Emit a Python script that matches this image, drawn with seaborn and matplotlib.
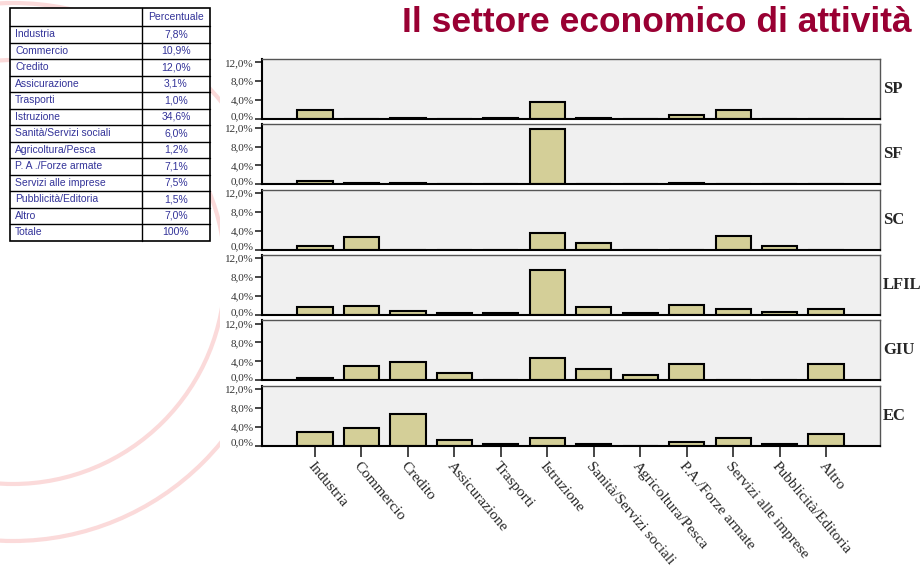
import matplotlib
matplotlib.use("Agg")
import pandas as pd
import matplotlib.pyplot as plt
import matplotlib.patches as mpatches
import seaborn as sns

# Settori economici (asse x) e tabella riassuntiva
categories = ["Industria", "Commercio", "Credito", "Assicurazione", "Trasporti",
              "Istruzione", "Sanità/Servizi sociali", "Agricoltura/Pesca",
              "P.A./Forze armate", "Servizi alle imprese", "Pubblicità/Editoria", "Altro"]
table_rows = ["Industria", "Commercio", "Credito", "Assicurazione", "Trasporti",
              "Istruzione", "Sanità/Servizi sociali", "Agricoltura/Pesca",
              "P. A ./Forze armate", "Servizi alle imprese", "Pubblicità/Editoria",
              "Altro", "Totale"]
table_pct = ["7,8%", "10,9%", "12,0%", "3,1%", "1,0%", "34,6%", "6,0%", "1,2%",
             "7,1%", "7,5%", "1,5%", "7,0%", "100%"]

# Percentuali per corso di laurea
groups = ["SP", "SF", "SC", "LFIL", "GIU", "EC"]
sp = [1.9, 0, 0.3, 0, 0.3, 3.6, 0.3, 0, 0.8, 1.9, 0, 0]
sf = [0.6, 0.2, 0.3, 0, 0, 11.6, 0.15, 0, 0.2, 0, 0, 0]
sc = [0.7, 2.6, 0, 0, 0, 3.5, 1.4, 0, 0, 2.9, 0.7, 0]
lfil = [1.6, 1.85, 0.8, 0.5, 0.3, 9.6, 1.6, 0.3, 2.05, 1.35, 0.6, 1.35]
giu = [0.5, 2.9, 3.8, 1.45, 0, 4.7, 2.35, 1.0, 3.35, 0, 0, 3.35]
ec = [2.8, 3.6, 6.7, 1.2, 0.35, 1.55, 0.35, 0, 0.8, 1.5, 0.3, 2.35]
group_values = [sp, sf, sc, lfil, giu, ec]

yticks = [0, 4, 8, 12]
ytick_labels = ["0,0%", "4,0%", "8,0%", "12,0%"]

sns.set_style("white")
plt.rcParams["font.family"] = ["Liberation Sans", "DejaVu Sans"]

W, H = 924, 573
fig = plt.figure(figsize=(W / 100, H / 100), dpi=100)

# ---- sfondo: filigrana + tabella ----
bg = fig.add_axes([0, 0, 1, 1])
bg.set_xlim(0, W)
bg.set_ylim(H, 0)
bg.axis("off")
clip = mpatches.Rectangle((0, 0), 220, H, transform=bg.transData)
for r in (269, 212):
    c = mpatches.Circle((13, 272), r, fill=False, lw=3, ec="#fbdada")
    bg.add_patch(c)
    c.set_clip_path(clip)

tx0, tx1, tx2 = 10, 142, 210
ty0, ty1, rh = 8, 26, 16.5
ty_end = ty1 + rh * len(table_rows)
bg.add_patch(mpatches.Rectangle((tx0, ty0), tx2 - tx0, ty_end - ty0,
                                fill=True, fc="white", ec="black", lw=1.2))
bg.plot([tx1, tx1], [ty0, ty_end], color="black", lw=1)
bg.text((tx1 + tx2) / 2, (ty0 + ty1) / 2, "Percentuale", ha="center", va="center",
        fontsize=7.5, color="#333399")
for i, (name, pct) in enumerate(zip(table_rows, table_pct)):
    ytop = ty1 + i * rh
    bg.plot([tx0, tx2], [ytop, ytop], color="black", lw=1)
    bg.text(tx0 + 5, ytop + rh / 2, name, ha="left", va="center", fontsize=7.5, color="#333399")
    bg.text((tx1 + tx2) / 2, ytop + rh / 2, pct, ha="center", va="center",
            fontsize=7.5, color="#333399")

fig.text(912 / W, 1 - 32 / H, "Il settore economico di attività", ha="right", va="baseline",
         fontsize=25.5, fontweight="bold", color="#990033", family="Liberation Sans")

# ---- pannelli ----
left, right = 262, 880
top0, pitch, ph = 59, 65.3, 60
for i, (g, vals) in enumerate(zip(groups, group_values)):
    top = top0 + i * pitch
    ax = fig.add_axes([left / W, 1 - (top + ph) / H, (right - left) / W, ph / H])
    ax.set_facecolor("#f0f0f0")
    df = pd.DataFrame({"settore": categories, "perc": vals})
    sns.barplot(data=df, x="settore", y="perc", ax=ax, color="#d4cf98", saturation=1,
                edgecolor="black", linewidth=1.5, width=0.76)
    ax.set_xlim(-1.14, 12.16)
    ax.set_ylim(0, 12.7)
    ax.set_xlabel("")
    ax.set_ylabel("")
    ax.set_yticks(yticks)
    ylabs = ax.set_yticklabels(ytick_labels, fontfamily="Liberation Serif", fontsize=8,
                               color="#333333")
    ylabs[0].set_va("baseline")
    ax.tick_params(axis="y", left=True, direction="out", length=5, width=1.2, pad=1)
    for s in ("top", "right"):
        ax.spines[s].set_color("#555555")
        ax.spines[s].set_linewidth(1)
    for s in ("left", "bottom"):
        ax.spines[s].set_color("black")
        ax.spines[s].set_linewidth(1.5)
    ax.text(1.005, 0.5, g, transform=ax.transAxes, ha="left", va="center",
            fontsize=12, fontweight="bold", family="Liberation Serif")
    if i < len(groups) - 1:
        ax.tick_params(axis="x", bottom=False, labelbottom=False)
    else:
        ax.tick_params(axis="x", bottom=True, direction="out", length=8, width=1.2, pad=2)
        ax.set_xticks(range(len(categories)))
        ax.set_xticklabels(categories, rotation=-50, ha="left", va="top",
                           rotation_mode="anchor", fontfamily="Liberation Serif", fontsize=11)

fig.savefig("out.png", dpi=100)
